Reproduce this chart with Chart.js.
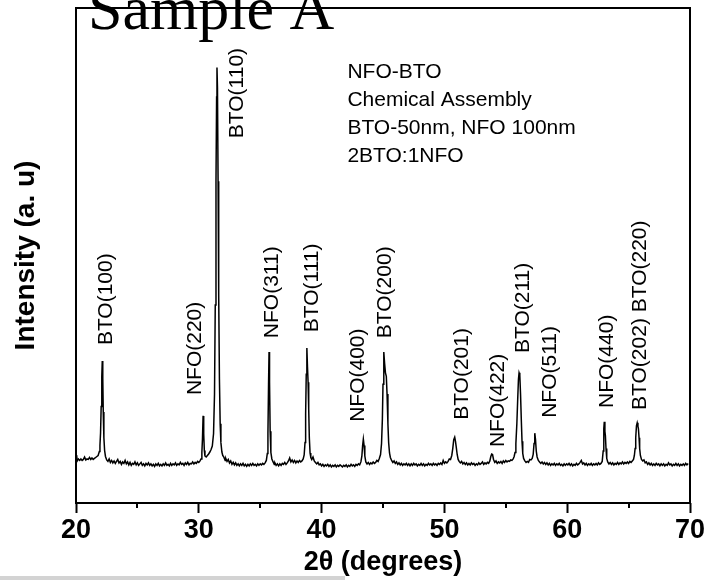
<!DOCTYPE html>
<html>
<head>
<meta charset="utf-8">
<script src="https://cdn.jsdelivr.net/npm/chart.js@4"></script>
<style>
html,body{margin:0;padding:0;background:#fff;}
#wrap{position:relative;width:708px;height:580px;}
</style>
</head>
<body>
<div id="wrap"><canvas id="c" width="708" height="580"></canvas></div>
<script>
// ---- data ----
const xTicks = [20, 30, 40, 50, 60, 70];
const xMinorTicks = [25, 35, 45, 55, 65];
const pattern = [
[20.05,9.7],[20.1,8.5],[20.2,8.9],[20.3,8.6],[20.4,8.9],[20.5,8.6],[20.6,8.8],[20.7,9.3],[20.8,8.7],[20.9,8.9],[21.0,8.8],[21.1,9.2],[21.2,8.8],[21.3,9.1],[21.4,8.8],[21.5,9.0],[21.6,9.2],[21.7,9.4],[21.8,9.6],[21.9,10.4],
[21.95,11.6],[22.0,14.2],[22.05,19.5],[22.1,25.5],[22.14,28.7],[22.18,25.2],[22.22,18.4],[22.27,13.2],[22.33,10.6],[22.4,9.4],[22.5,8.7],
[22.6,8.4],[22.7,8.9],[22.8,8.2],[22.9,8.6],[23.0,8.1],[23.1,8.5],[23.2,8.0],[23.3,8.4],[23.4,8.8],[23.5,8.1],[23.6,8.4],[23.7,7.8],[23.8,8.3],[23.9,8.0],[24.0,8.6],[24.1,7.9],[24.2,8.3],[24.3,7.7],[24.4,8.2],[24.5,7.6],[24.6,8.0],[24.7,7.8],[24.8,8.3],[24.9,7.7],[25.0,8.1],[25.1,7.6],[25.2,7.9],[25.3,8.2],[25.4,7.6],[25.5,7.9],[25.6,7.5],[25.7,8.0],[25.8,7.7],[25.9,8.1],[26.0,7.6],[26.1,7.9],[26.2,7.5],[26.3,7.8],[26.4,7.4],[26.5,7.9],[26.6,7.6],[26.7,8.0],[26.8,7.5],[26.9,7.8],[27.0,7.5],[27.1,7.9],[27.2,7.6],[27.3,8.1],[27.4,7.6],[27.5,7.8],[27.6,7.5],[27.7,8.0],[27.8,7.6],[27.9,7.9],[28.0,7.7],[28.1,8.1],[28.2,7.6],[28.3,7.9],[28.4,7.7],[28.5,8.2],[28.6,7.8],[28.7,8.0],[28.8,7.6],[28.9,8.1],[29.0,7.8],[29.1,8.2],[29.2,7.7],[29.3,8.0],[29.4,7.9],[29.5,8.3],[29.6,7.9],[29.7,8.2],[29.8,8.0],[29.9,8.4],[30.0,8.2],[30.1,8.5],[30.18,8.9],
[30.25,10.2],[30.3,13.0],[30.35,17.6],[30.4,14.0],[30.45,10.6],[30.5,9.5],[30.6,9.3],[30.7,9.6],[30.8,9.9],[30.9,10.3],[31.0,10.8],[31.1,11.5],[31.2,14.0],[31.28,22],[31.34,40],[31.4,65],[31.45,82],[31.48,88],[31.52,84],[31.57,65],[31.62,42],[31.68,25],[31.74,16],[31.8,12.2],[31.88,10.3],[31.95,9.6],[32.05,9.2],[32.15,8.6],[32.2,9.0],[32.3,8.4],[32.4,8.8],[32.5,8.1],[32.6,8.5],[32.7,7.8],[32.8,8.2],[32.9,7.7],[33.0,8.1],[33.1,7.6],[33.2,7.9],[33.3,7.5],[33.4,7.9],[33.5,7.6],[33.6,8.0],[33.7,7.5],[33.8,7.8],[33.9,7.4],[34.0,7.8],[34.1,7.5],[34.2,7.9],[34.3,7.6],[34.4,8.0],[34.5,7.6],[34.6,7.8],[34.7,7.5],[34.8,7.9],[34.9,7.6],[35.0,7.9],[35.1,7.7],[35.2,8.0],[35.3,7.8],[35.4,8.1],[35.5,8.6],
[35.58,10.0],[35.63,14.0],[35.68,24.0],[35.72,30.5],[35.76,24.5],[35.81,14.5],[35.87,10.2],[35.95,8.9],[36.05,8.3],[36.15,7.8],[36.2,8.1],[36.3,7.6],[36.4,7.9],[36.5,7.5],[36.6,7.9],[36.7,7.6],[36.8,8.0],[36.9,7.8],[37.0,8.2],[37.1,7.8],[37.2,8.1],[37.3,8.5],[37.4,9.1],[37.5,8.3],[37.6,8.7],[37.7,8.2],[37.8,8.6],[37.9,8.1],[38.0,8.5],[38.1,8.2],[38.2,8.6],[38.3,8.3],[38.4,8.5],[38.5,8.9],
[38.58,9.7],[38.65,12.2],[38.7,18.0],[38.75,26.0],[38.8,31.3],[38.85,27.5],[38.9,24.4],[38.95,19.0],[39.0,13.2],[39.06,10.1],[39.12,9.2],[39.2,8.8],[39.3,9.3],[39.4,8.5],[39.5,8.2],[39.6,7.9],[39.7,8.2],[39.8,7.7],[39.9,7.9],[40.0,7.5],[40.1,7.8],[40.2,7.4],[40.3,7.7],[40.4,7.5],[40.5,7.8],[40.6,7.4],[40.7,7.7],[40.8,7.3],[40.9,7.6],[41.0,7.4],[41.1,7.7],[41.2,7.3],[41.3,7.6],[41.4,7.4],[41.5,7.7],[41.6,7.5],[41.7,7.3],[41.8,7.6],[41.9,7.4],[42.0,7.7],[42.1,7.3],[42.2,7.6],[42.3,7.4],[42.4,7.8],[42.5,7.5],[42.6,7.7],[42.7,7.4],[42.8,7.8],[42.9,7.6],[43.0,7.9],[43.1,7.7],[43.2,8.3],
[43.28,9.5],[43.34,11.6],[43.4,12.9],[43.46,11.6],[43.52,9.5],[43.6,8.3],[43.7,7.9],[43.8,8.2],[43.9,7.8],[44.0,8.1],[44.1,7.9],[44.2,8.3],[44.3,8.0],[44.4,8.2],[44.5,8.6],[44.6,8.4],[44.7,9.0],[44.8,9.8],
[44.88,12.0],[44.95,17.0],[45.0,24.0],[45.05,29.0],[45.08,30.5],[45.13,28.2],[45.2,26.3],[45.27,25.6],[45.33,22.0],[45.4,16.0],[45.46,12.2],[45.53,10.1],[45.6,9.2],[45.7,8.6],[45.8,8.2],[45.9,8.5],[46.0,8.0],[46.1,8.3],[46.2,7.8],[46.3,8.1],[46.4,7.7],[46.5,8.0],[46.6,7.6],[46.7,7.9],[46.8,7.7],[46.9,8.0],[47.0,7.6],[47.1,7.9],[47.2,7.5],[47.3,7.9],[47.4,7.6],[47.5,8.0],[47.6,7.7],[47.7,7.9],[47.8,7.5],[47.9,7.8],[48.0,7.6],[48.1,8.0],[48.2,7.6],[48.3,7.9],[48.4,7.5],[48.5,7.8],[48.6,7.6],[48.7,8.0],[48.8,7.7],[48.9,7.9],[49.0,7.6],[49.1,8.0],[49.2,7.7],[49.3,7.9],[49.4,7.6],[49.5,8.0],[49.6,7.8],[49.7,8.1],[49.8,7.8],[49.9,8.6],[50.0,8.0],[50.1,8.3],[50.2,8.1],[50.3,8.4],[50.4,8.9],[50.5,8.8],[50.6,9.6],
[50.68,11.0],[50.76,12.8],[50.84,13.3],[50.9,12.5],[50.96,11.4],[51.04,9.8],[51.12,8.8],[51.2,8.4],[51.3,8.1],[51.4,8.4],[51.5,7.9],[51.6,8.2],[51.7,7.8],[51.8,8.1],[51.9,7.7],[52.0,8.0],[52.1,7.7],[52.2,8.1],[52.3,7.8],[52.4,8.0],[52.5,7.6],[52.6,7.9],[52.7,7.7],[52.8,8.1],[52.9,7.8],[53.0,8.0],[53.1,8.3],[53.2,7.8],[53.3,8.1],[53.4,7.9],[53.5,8.2],[53.6,8.0],[53.7,8.5],
[53.78,9.4],[53.85,9.9],[53.92,9.8],[54.0,8.8],[54.1,8.2],[54.2,8.5],[54.3,8.0],[54.4,8.3],[54.5,8.1],[54.6,8.4],[54.7,8.0],[54.8,8.5],[54.9,8.2],[55.0,8.6],[55.1,8.3],[55.2,8.5],[55.3,8.4],[55.4,8.7],[55.5,8.6],[55.6,8.9],[55.68,9.4],[55.75,10.2],
[55.82,12.0],[55.9,16.0],[55.97,21.0],[56.03,25.0],[56.08,26.3],[56.14,25.8],[56.2,22.0],[56.26,17.0],[56.32,12.5],[56.38,10.0],[56.45,9.0],[56.55,8.5],[56.65,8.2],[56.75,8.4],[56.85,8.2],[56.95,8.8],[57.05,8.7],[57.15,9.0],[57.23,9.8],
[57.3,12.0],[57.36,14.1],[57.42,12.8],[57.48,10.5],[57.55,9.3],[57.65,8.6],[57.75,8.3],[57.85,8.0],[57.95,8.3],[58.05,7.9],[58.15,8.2],[58.25,7.8],[58.35,8.1],[58.45,7.7],[58.55,8.0],[58.65,7.6],[58.75,7.9],[58.85,7.7],[58.95,8.0],[59.05,7.6],[59.15,7.9],[59.25,7.7],[59.35,8.0],[59.45,7.6],[59.55,7.8],[59.65,7.5],[59.75,7.9],[59.85,7.6],[59.95,7.9],[60.05,7.7],[60.15,8.0],[60.25,7.6],[60.35,7.9],[60.45,7.5],[60.55,7.8],[60.65,7.6],[60.75,8.0],[60.85,7.7],[60.95,7.9],[61.05,8.2],[61.15,8.6],[61.25,7.9],[61.35,8.1],[61.45,7.7],[61.55,8.0],[61.65,7.6],[61.75,7.9],[61.85,7.7],[61.95,8.0],[62.05,7.6],[62.15,7.9],[62.25,7.7],[62.35,8.0],[62.45,7.7],[62.55,8.1],[62.65,7.8],[62.75,8.0],[62.85,8.4],
[62.93,10.5],[62.98,15.0],[63.02,16.4],[63.07,14.5],[63.11,13.6],[63.16,11.0],[63.22,9.0],[63.3,8.3],[63.4,7.9],[63.5,8.2],[63.6,7.8],[63.7,8.1],[63.8,7.7],[63.9,8.0],[64.0,7.8],[64.1,8.2],[64.2,7.8],[64.3,8.1],[64.4,7.9],[64.5,8.3],[64.6,7.9],[64.7,8.2],[64.8,8.0],[64.9,8.3],[65.0,8.0],[65.1,8.4],[65.2,8.2],[65.3,8.5],[65.4,8.8],
[65.47,9.6],[65.53,11.0],[65.58,13.2],[65.64,15.6],[65.7,16.2],[65.76,15.5],[65.8,15.0],[65.85,13.2],[65.9,11.0],[65.96,9.6],[66.05,8.8],[66.15,8.5],[66.25,8.7],[66.35,8.1],[66.45,8.3],[66.55,7.8],[66.65,8.1],[66.75,7.7],[66.85,8.0],[66.95,7.6],[67.05,7.9],[67.15,7.6],[67.25,8.0],[67.35,7.7],[67.45,7.9],[67.55,7.5],[67.65,7.9],[67.75,7.6],[67.85,7.9],[67.95,7.5],[68.05,7.8],[68.15,7.6],[68.25,8.1],[68.35,7.7],[68.45,7.9],[68.55,7.5],[68.65,7.8],[68.75,7.6],[68.85,8.0],[68.95,7.6],[69.05,7.9],[69.15,7.5],[69.25,7.8],[69.35,7.6],[69.45,7.9],[69.55,7.6],[69.65,8.0],[69.75,7.7],[69.85,8.0]
];
const peakLabels = ['BTO(100)','NFO(220)','BTO(110)','NFO(311)','BTO(111)','NFO(400)','BTO(200)','BTO(201)','NFO(422)','BTO(211)','NFO(511)','NFO(440)','BTO(202) BTO(220)'];
const peakLabelAngles = [22.5, 29.7, 33.1, 35.96, 39.2, 42.96, 45.16, 51.43, 54.36, 56.4, 58.6, 63.24, 65.93];
const peakLabelBases = [31.9, 21.8, 73.7, 33.3, 34.5, 16.4, 33.3, 16.8, 11.3, 30.3, 17.2, 19.2, 18.8];
const noteLines = ['NFO-BTO', 'Chemical Assembly', 'BTO-50nm, NFO 100nm', '2BTO:1NFO'];
const noteAt = [42.1, 87.1];
const titleText = 'Sample A';
const xTitle = '2\u03B8 (degrees)';
const yTitle = 'Intensity (a. u)';

const SANS = '"Liberation Sans", Arial, Helvetica, sans-serif';
const SERIF = '"Liberation Serif", "Times New Roman", serif';

const points = pattern.map(p => ({x: p[0], y: p[1]}));

const decor = {
  id: 'decor',
  beforeDatasetsDraw(chart) {
    const {ctx} = chart;
    ctx.save();
    ctx.fillStyle = '#000';
    ctx.font = '62px ' + SERIF;
    ctx.textAlign = 'left';
    ctx.textBaseline = 'alphabetic';
    ctx.fillText(titleText, 88, 29);
    ctx.restore();
  },
  afterDatasetsDraw(chart) {
    const {ctx, chartArea: a} = chart;
    const xs = chart.scales.x, ys = chart.scales.y;
    ctx.save();
    ctx.strokeStyle = '#000';
    ctx.lineWidth = 2;
    ctx.strokeRect(a.left, a.top, a.right - a.left, a.bottom - a.top);
    xMinorTicks.forEach(v => {
      const px = Math.round(xs.getPixelForValue(v));
      ctx.beginPath();
      ctx.moveTo(px, a.bottom);
      ctx.lineTo(px, a.bottom + 5);
      ctx.stroke();
    });
    ctx.fillStyle = '#000';
    ctx.font = '21px ' + SANS;
    ctx.textAlign = 'left';
    ctx.textBaseline = 'middle';
    peakLabels.forEach((t, i) => {
      ctx.save();
      ctx.translate(xs.getPixelForValue(peakLabelAngles[i]), ys.getPixelForValue(peakLabelBases[i]));
      ctx.rotate(-Math.PI / 2);
      ctx.fillText(t, 0, 0);
      ctx.restore();
    });
    ctx.font = '21px ' + SANS;
    ctx.textBaseline = 'middle';
    const nx = xs.getPixelForValue(noteAt[0]);
    const ny = ys.getPixelForValue(noteAt[1]);
    noteLines.forEach((t, i) => ctx.fillText(t, nx, ny + i * 28));
    ctx.fillStyle = '#d3d3d3';
    ctx.fillRect(0, 576, 345, 4);
    ctx.restore();
  }
};

new Chart(document.getElementById('c'), {
  type: 'scatter',
  data: {
    datasets: [{
      data: points,
      showLine: true,
      borderColor: '#000',
      borderWidth: 1.5,
      pointRadius: 0,
      tension: 0,
      fill: false
    }]
  },
  options: {
    responsive: false,
    animation: false,
    events: [],
    layout: {padding: {top: 8, right: 18, left: 0, bottom: 0}},
    plugins: {legend: {display: false}, tooltip: {enabled: false}, title: {display: false}},
    scales: {
      x: {
        type: 'linear',
        min: 20, max: 70,
        afterFit(s) { s.height = 77; },
        afterBuildTicks(s) { s.ticks = xTicks.map(v => ({value: v})); },
        ticks: {
          color: '#000',
          font: {family: SANS, size: 27, weight: 'bold'},
          padding: 1,
          maxRotation: 0,
          autoSkip: false
        },
        grid: {display: true, drawOnChartArea: false, drawTicks: true, tickLength: 10, tickColor: '#000', tickWidth: 2},
        border: {display: false},
        title: {display: true, text: xTitle, color: '#000', font: {family: SANS, size: 27, weight: 'bold'}, padding: {top: 0, bottom: 1}}
      },
      y: {
        type: 'linear',
        min: 0, max: 100,
        afterFit(s) { s.width = 76; },
        ticks: {display: false},
        grid: {display: false},
        border: {display: false},
        title: {display: true, text: yTitle, color: '#000', font: {family: SANS, size: 28, weight: 'bold'}, padding: {top: 9, bottom: 0}}
      }
    }
  },
  plugins: [decor]
});
</script>
</body>
</html>
